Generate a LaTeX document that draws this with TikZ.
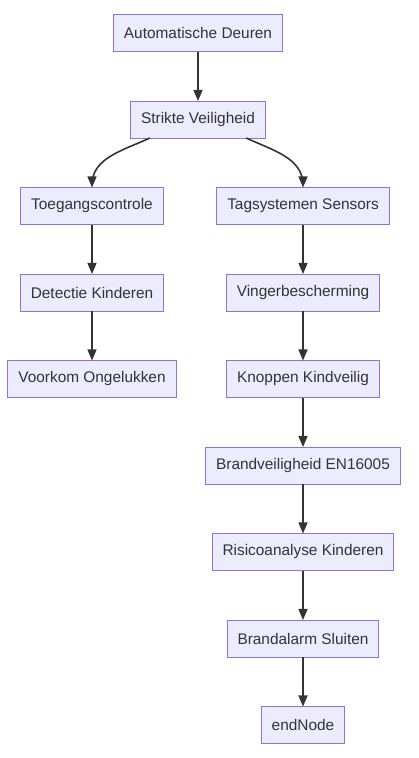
\documentclass[tikz,border=0pt]{standalone}
\usepackage{fontspec}
\setmainfont{Liberation Sans}
\usetikzlibrary{shapes}
\usetikzlibrary{positioning}
\usetikzlibrary{arrows}
\definecolor{boxfill}{HTML}{ECECFF}
\definecolor{boxline}{HTML}{9370DB}
\definecolor{inkgrey}{HTML}{333333}
\tikzstyle{stepbox} = [rectangle,fill=boxfill,draw=boxline,line width=1pt,
inner xsep=10.5pt, inner ysep=0pt, outer sep=0pt, minimum height=37pt, text=inkgrey,
font=\fontsize{15.4}{18}\selectfont, node distance=49.5pt]
\tikzstyle{flow} = [draw=inkgrey, line width=1.6pt]
\tikzset{>={triangle 45}}
\newcommand{\link}[3][]{ %
  % arrow from node #2 down to node #3
  \draw[flow,->,#1] (#2) -- (#3) ;%
}

\begin{document}
\begin{tikzpicture}[x=1pt,y=-1pt]
  \useasboundingbox (0,0) rectangle (418,758);
  \node[stepbox] (ad) at (198,33) {Automatische Deuren};
  \node[stepbox, below=of ad] (sv) {Strikte Veiligheid};
  \node[stepbox, below=of sv, xshift=-106pt] (tc) {Toegangscontrole};
  \node[stepbox, below=of sv, xshift=105pt] (ts) {Tagsystemen Sensors};
  \node[stepbox, below=of tc] (dk) {Detectie Kinderen};
  \node[stepbox, below=of dk] (vo) {Voorkom Ongelukken};
  \node[stepbox, below=of ts] (vb) {Vingerbescherming};
  \node[stepbox, below=of vb] (kk) {Knoppen Kindveilig};
  \node[stepbox, below=of kk] (bv) {Brandveiligheid EN16005};
  \node[stepbox, below=of bv] (rk) {Risicoanalyse Kinderen};
  \node[stepbox, below=of rk] (bs) {Brandalarm Sluiten};
  \node[stepbox, below=of bs] (en) {endNode};

  \link {ad} {sv};
  \draw[flow,->] (sv.201) to[out=-155, in=90] (tc.north);
  \draw[flow,->] (sv.-21) to[out=-25, in=90] (ts.north);
  \link {tc} {dk};
  \link {dk} {vo};
  \link {ts} {vb};
  \link {vb} {kk};
  \link {kk} {bv};
  \link {bv} {rk};
  \link {rk} {bs};
  \link {bs} {en};
\end{tikzpicture}
\end{document}
